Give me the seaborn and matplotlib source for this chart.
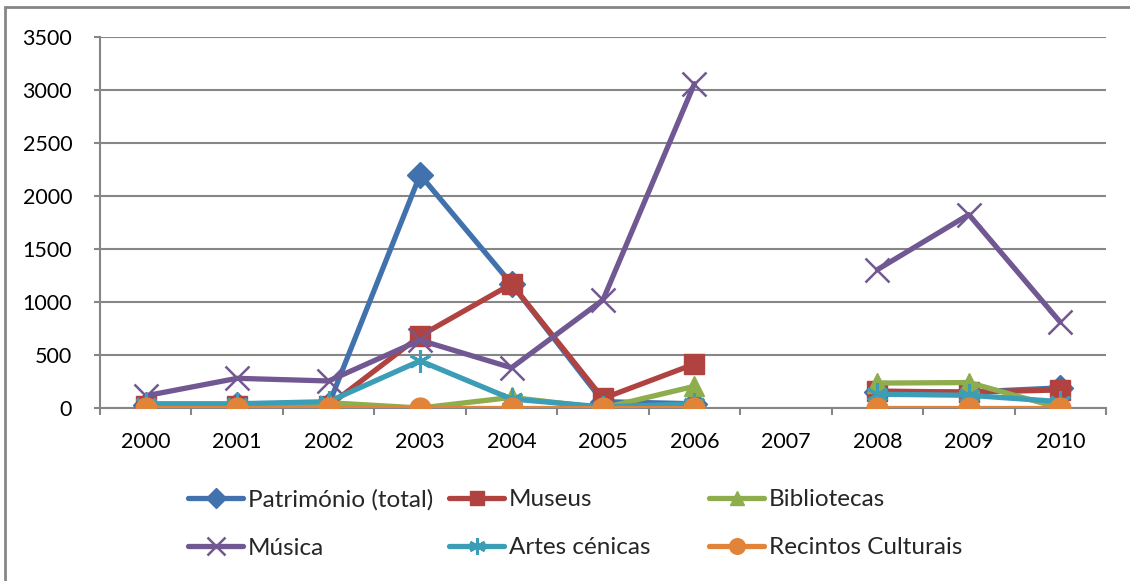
import matplotlib
matplotlib.use("Agg")
import matplotlib.pyplot as plt
from matplotlib.lines import Line2D
from matplotlib.patches import Rectangle
import numpy as np
import pandas as pd
import seaborn as sns

nan = np.nan

anos = ["2000", "2001", "2002", "2003", "2004", "2005", "2006", "2007", "2008", "2009", "2010"]

patrimonio = [25, 25, 30, 2200, 1170, 60, 40, nan, 150, 150, 190]
museus = [20, 20, 20, 680, 1170, 90, 415, nan, 160, 150, 170]
bibliotecas = [0, 0, 50, 0, 100, 0, 205, nan, 235, 240, 0]
musica = [115, 280, 255, 640, 380, 1020, 3060, nan, 1305, 1825, 810]
artes_cenicas = [40, 40, 60, 445, 85, 10, 40, nan, 130, 120, 60]
recintos = [0, 0, 0, 0, 0, 0, 0, nan, 0, 0, 0]

series = [
    ("Património (total)", patrimonio, "#4272AE", "D", 13, 1.0),
    ("Museus", museus, "#B0423F", "s", 14, 1.0),
    ("Bibliotecas", bibliotecas, "#8EAD4C", "^", 14, 1.0),
    ("Música", musica, "#725893", "x", 17, 1.8),
    ("Artes cénicas", artes_cenicas, "#3C9DB7", (6, 2, 0), 16, 2.2),
    ("Recintos Culturais", recintos, "#E2833A", "o", 15, 1.0),
]

W, H = 1130, 581
fig = plt.figure(figsize=(W / 100, H / 100), dpi=100)
sns.set_style("white")
plt.rcParams["font.family"] = ["Lato", "DejaVu Sans"]

ax = fig.add_axes([100 / W, 1 - 408 / H, (1106 - 100) / W, (408 - 37) / H])

grid_col = "#868686"
handles = []
for nome, vals, cor, marc, ms, mew in series:
    df = pd.DataFrame({"pos": np.arange(len(anos)), "valor": vals})
    df["seg"] = df["valor"].isna().cumsum()
    df = df.dropna()
    sns.lineplot(data=df, x="pos", y="valor", units="seg", estimator=None,
                 color=cor, linewidth=3.8, marker=marc, markersize=ms,
                 markeredgecolor=cor, markeredgewidth=mew, ax=ax, legend=False)
    handles.append(Line2D([], [], color=cor, linewidth=3.8, marker=marc,
                          markersize=ms * 0.75, markeredgecolor=cor,
                          markeredgewidth=mew, label=nome))

ax.set_xlim(-0.5, len(anos) - 0.5)
ax.set_ylim(0, 3500)
ax.set_yticks(range(0, 3501, 500))
ax.set_xticks(range(len(anos)))
ax.set_xticklabels(anos)
ax.set_xticks(np.arange(-0.5, len(anos), 1.0), minor=True)
ax.set_xlabel("")
ax.set_ylabel("")

ax.yaxis.grid(True, color=grid_col, linewidth=1.5)
ax.set_axisbelow(True)
for s in ["top", "right"]:
    ax.spines[s].set_visible(False)
for s in ["left", "bottom"]:
    ax.spines[s].set_color(grid_col)
    ax.spines[s].set_linewidth(1.5)
ax.spines["bottom"].set_zorder(1)

ax.tick_params(axis="y", which="major", left=True, length=4, width=1.5,
               color=grid_col, pad=16, labelsize=15.5, labelcolor="black")
ax.tick_params(axis="x", which="major", bottom=False, length=0, pad=17,
               labelsize=15.5, labelcolor="black")
ax.tick_params(axis="x", which="minor", bottom=True, length=5, width=1.5,
               color=grid_col)

# contorno da área do gráfico
fig.patches.append(Rectangle((5 / W, -0.1), 1.2, 1 - 7 / H + 0.1,
                             transform=fig.transFigure, fill=False,
                             edgecolor=grid_col, linewidth=2))

# legenda em três colunas de largura igual
col_x = [188, 449, 709]
ordem = [(0, 3), (1, 4), (2, 5)]
for x0, (a, b) in zip(col_x, ordem):
    fig.legend(handles=[handles[a], handles[b]], loc="upper left",
               bbox_to_anchor=(x0 / W, 1 - 489 / H), frameon=False,
               borderpad=0, borderaxespad=0, handlelength=2.27,
               handletextpad=0.2, labelspacing=1.13, fontsize=17.5)

fig.savefig("out.png", dpi=100)
